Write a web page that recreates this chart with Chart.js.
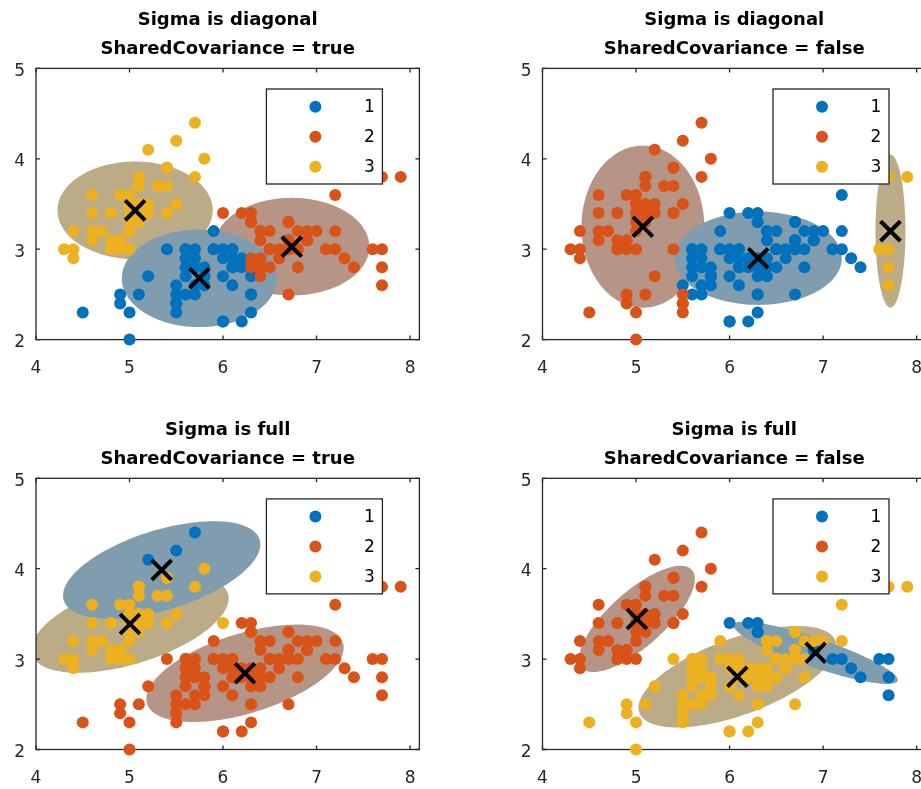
<!DOCTYPE html>
<html>
<head>
<meta charset="utf-8">
<script src="https://cdn.jsdelivr.net/npm/chart.js@4.4.1/dist/chart.umd.min.js"></script>
<style>
  html, body { margin: 0; padding: 0; background: #fff; overflow: hidden; }
  #fig { position: relative; width: 921px; height: 789px; overflow: hidden; }
  #fig canvas { position: absolute; }
</style>
</head>
<body>
<div id="fig">
  <canvas id="c1" width="460" height="400" style="left:0;top:0;width:460px;height:400px"></canvas>
  <canvas id="c2" width="500" height="400" style="left:460px;top:0;width:500px;height:400px"></canvas>
  <canvas id="c3" width="460" height="389" style="left:0;top:400px;width:460px;height:389px"></canvas>
  <canvas id="c4" width="500" height="389" style="left:460px;top:400px;width:500px;height:389px"></canvas>
</div>
<script>
// Fisher iris: sepal length / sepal width (setosa, versicolor, virginica)
const sepalLength = [
  5.1,4.9,4.7,4.6,5.0,5.4,4.6,5.0,4.4,4.9, 5.4,4.8,4.8,4.3,5.8,5.7,5.4,5.1,5.7,5.1,
  5.4,5.1,4.6,5.1,4.8,5.0,5.0,5.2,5.2,4.7, 4.8,5.4,5.2,5.5,4.9,5.0,5.5,4.9,4.4,5.1,
  5.0,4.5,4.4,5.0,5.1,4.8,5.1,4.6,5.3,5.0,
  7.0,6.4,6.9,5.5,6.5,5.7,6.3,4.9,6.6,5.2, 5.0,5.9,6.0,6.1,5.6,6.7,5.6,5.8,6.2,5.6,
  5.9,6.1,6.3,6.1,6.4,6.6,6.8,6.7,6.0,5.7, 5.5,5.5,5.8,6.0,5.4,6.0,6.7,6.3,5.6,5.5,
  5.5,6.1,5.8,5.0,5.6,5.7,5.7,6.2,5.1,5.7,
  6.3,5.8,7.1,6.3,6.5,7.6,4.9,7.3,6.7,7.2, 6.5,6.4,6.8,5.7,5.8,6.4,6.5,7.7,7.7,6.0,
  6.9,5.6,7.7,6.3,6.7,7.2,6.2,6.1,6.4,7.2, 7.4,7.9,6.4,6.3,6.1,7.7,6.3,6.4,6.0,6.9,
  6.7,6.9,5.8,6.8,6.7,6.7,6.3,6.5,6.2,5.9
];
const sepalWidth = [
  3.5,3.0,3.2,3.1,3.6,3.9,3.4,3.4,2.9,3.1, 3.7,3.4,3.0,3.0,4.0,4.4,3.9,3.5,3.8,3.8,
  3.4,3.7,3.6,3.3,3.4,3.0,3.4,3.5,3.4,3.2, 3.1,3.4,4.1,4.2,3.1,3.2,3.5,3.6,3.0,3.4,
  3.5,2.3,3.2,3.5,3.8,3.0,3.8,3.2,3.7,3.3,
  3.2,3.2,3.1,2.3,2.8,2.8,3.3,2.4,2.9,2.7, 2.0,3.0,2.2,2.9,2.9,3.1,3.0,2.7,2.2,2.5,
  3.2,2.8,2.5,2.8,2.9,3.0,2.8,3.0,2.9,2.6, 2.4,2.4,2.7,2.7,3.0,3.4,3.1,2.3,3.0,2.5,
  2.6,3.0,2.6,2.3,2.7,3.0,2.9,2.9,2.5,2.8,
  3.3,2.7,3.0,2.9,3.0,3.0,2.5,2.9,2.5,3.6, 3.2,2.7,3.0,2.5,2.8,3.2,3.0,3.8,2.6,2.2,
  3.2,2.8,2.8,2.7,3.3,3.2,2.8,3.0,2.8,3.0, 2.8,3.8,2.8,2.8,2.6,3.0,3.4,3.1,3.0,3.1,
  3.1,3.1,2.7,3.2,3.3,3.0,2.5,3.0,3.4,3.0
];

// cluster index of every flower, one list per fit
const clusterDiagShared = [
  3,3,3,3,3,3,3,3,3,3, 3,3,3,3,3,3,3,3,3,3, 3,3,3,3,3,3,3,3,3,3, 3,3,3,3,3,3,3,3,3,3, 3,1,3,3,3,3,3,3,3,3,
  2,2,2,1,2,1,2,1,2,1, 1,1,1,1,1,2,1,1,1,1, 1,1,1,1,2,2,2,2,1,1, 1,1,1,1,1,2,2,1,1,1, 1,1,1,1,1,1,1,1,1,1,
  2,1,2,2,2,2,1,2,2,2, 2,2,2,1,1,2,2,2,2,1, 2,1,2,1,2,2,1,1,2,2, 2,2,2,2,1,2,2,2,1,2, 2,2,1,2,2,2,1,2,2,1
];
const clusterDiagUnshared = [
  2,2,2,2,2,2,2,2,2,2, 2,2,2,2,2,2,2,2,2,2, 2,2,2,2,2,2,2,2,2,2, 2,2,2,2,2,2,2,2,2,2, 2,2,2,2,2,2,2,2,2,2,
  1,1,1,2,1,1,1,2,1,2, 2,1,1,1,1,1,1,1,1,1, 1,1,1,1,1,1,1,1,1,1, 2,2,1,1,2,1,1,1,1,2, 1,1,1,2,1,1,1,1,2,1,
  1,1,1,1,1,3,2,1,1,1, 1,1,1,1,1,1,1,3,3,1, 1,1,3,1,1,1,1,1,1,1, 1,3,1,1,1,3,1,1,1,1, 1,1,1,1,1,1,1,1,1,1
];
const clusterFullShared = [
  3,3,3,3,3,3,3,3,3,3, 3,3,3,3,3,1,3,3,3,3, 3,3,3,3,3,3,3,3,3,3, 3,3,1,1,3,3,3,3,3,3, 3,2,3,3,3,3,3,3,3,3,
  2,2,2,2,2,2,2,2,2,2, 2,2,2,2,2,2,2,2,2,2, 2,2,2,2,2,2,2,2,2,2, 2,2,2,2,2,3,2,2,2,2, 2,2,2,2,2,2,2,2,2,2,
  2,2,2,2,2,2,2,2,2,2, 2,2,2,2,2,2,2,2,2,2, 2,2,2,2,2,2,2,2,2,2, 2,2,2,2,2,2,2,2,2,2, 2,2,2,2,2,2,2,2,2,2
];
const clusterFullUnshared = [
  2,2,2,2,2,2,2,2,2,2, 2,2,2,2,2,2,2,2,2,2, 2,2,2,2,2,2,2,2,2,2, 2,2,2,2,2,2,2,2,2,2, 2,3,2,2,2,2,2,2,2,2,
  3,3,1,3,3,3,1,3,3,3, 3,3,3,3,3,3,3,3,3,3, 3,3,3,3,3,3,3,3,3,3, 3,3,3,3,3,1,3,3,3,3, 3,3,3,3,3,3,3,3,3,3,
  1,3,1,3,3,1,3,1,3,3, 3,3,3,3,3,3,3,3,1,3, 3,3,1,3,3,3,3,3,3,1, 1,3,3,3,3,1,1,3,3,1, 3,1,3,3,3,3,3,3,1,3
];

// fitted component means [x, y]
const meansDiagShared   = [[5.747, 2.678], [6.735, 3.028], [5.06, 3.43]];
const meansDiagUnshared = [[6.306, 2.90], [5.073, 3.249], [7.72, 3.20]];
const meansFullShared   = [[5.344, 3.986], [6.235, 2.843], [5.005, 3.388]];
const meansFullUnshared = [[6.92, 3.07], [5.009, 3.444], [6.083, 2.805]];

// 99% contour of each component: [semi-major, semi-minor, angle in degrees]
const contourDiagShared   = [[0.83, 0.54, 0], [0.83, 0.54, 0], [0.83, 0.54, 0]];
const contourDiagUnshared = [[0.894, 0.516, 0], [0.656, 0.897, 0], [0.16, 0.846, 0]];
const contourFullShared   = [[1.10, 0.44, 18], [1.10, 0.44, 18], [1.10, 0.44, 18]];
const contourFullUnshared = [[0.93, 0.16, -19.5], [0.80, 0.30, 43], [1.12, 0.42, 21]];

const xTicks = [4, 5, 6, 7, 8];
const yTicks = [2, 3, 4, 5];
const legendLabels = ['1', '2', '3'];

const CLUSTER_COLORS = ['#0072BD', '#D95319', '#EDB120'];
// same colours lightened the way the MATLAB example does: 0.25*c + 0.5
const REGION_COLORS = ['rgb(128,156,175)', 'rgb(182,148,134)', 'rgb(187,172,135)'];
const AXIS_COLOR = '#262626';
const FONT = "'DejaVu Sans', sans-serif";

function clusterPoints(labels, k) {
    const pts = [];
    labels.forEach((c, i) => {
        if (c === k) pts.push({ x: sepalLength[i], y: sepalWidth[i] });
    });
    return pts;
}

// ellipses, box with inward ticks and a boxed legend, MATLAB style
function matlabAxes(panel) {
    return {
        id: 'matlabAxes',
        beforeDatasetsDraw(chart) {
            const { ctx, chartArea: a, scales: { x, y } } = chart;
            ctx.save();
            ctx.beginPath();
            ctx.rect(a.left, a.top, a.right - a.left, a.bottom - a.top);
            ctx.clip();
            for (let k = panel.means.length - 1; k >= 0; k--) {
                const [mx, my] = panel.means[k];
                const [ra, rb, deg] = panel.contours[k];
                const th = deg * Math.PI / 180;
                ctx.beginPath();
                for (let i = 0; i <= 180; i++) {
                    const t = i / 180 * 2 * Math.PI;
                    const dx = ra * Math.cos(t) * Math.cos(th) - rb * Math.sin(t) * Math.sin(th);
                    const dy = ra * Math.cos(t) * Math.sin(th) + rb * Math.sin(t) * Math.cos(th);
                    const px = x.getPixelForValue(mx + dx);
                    const py = y.getPixelForValue(my + dy);
                    if (i === 0) ctx.moveTo(px, py); else ctx.lineTo(px, py);
                }
                ctx.closePath();
                ctx.fillStyle = REGION_COLORS[k];
                ctx.fill();
            }
            ctx.restore();

            ctx.save();
            ctx.strokeStyle = AXIS_COLOR;
            ctx.lineWidth = 1.3;
            ctx.strokeRect(a.left, a.top, a.right - a.left, a.bottom - a.top);
            ctx.beginPath();
            x.ticks.forEach(t => {
                const p = x.getPixelForValue(t.value);
                ctx.moveTo(p, a.bottom); ctx.lineTo(p, a.bottom - 4);
                ctx.moveTo(p, a.top); ctx.lineTo(p, a.top + 4);
            });
            y.ticks.forEach(t => {
                const p = y.getPixelForValue(t.value);
                ctx.moveTo(a.left, p); ctx.lineTo(a.left + 4, p);
                ctx.moveTo(a.right, p); ctx.lineTo(a.right - 4, p);
            });
            ctx.stroke();
            ctx.restore();
        },
        afterDatasetsDraw(chart) {
            const { ctx, chartArea: a } = chart;
            const w = 116, h = 95;
            const left = a.right - 37 - w, top = a.top + 20.6;
            ctx.save();
            ctx.fillStyle = '#fff';
            ctx.fillRect(left, top, w, h);
            ctx.strokeStyle = AXIS_COLOR;
            ctx.lineWidth = 1.3;
            ctx.strokeRect(left, top, w, h);
            ctx.font = '17px ' + FONT;
            ctx.textAlign = 'center';
            ctx.textBaseline = 'middle';
            legendLabels.forEach((lab, i) => {
                const yy = top + 17.7 + 30 * i;
                ctx.beginPath();
                ctx.arc(left + 49, yy, 6, 0, 2 * Math.PI);
                ctx.fillStyle = CLUSTER_COLORS[i];
                ctx.fill();
                ctx.fillStyle = '#000';
                ctx.fillText(lab, left + 103, yy + 1);
            });
            ctx.restore();
        }
    };
}

const panels = [
    { id: 'c1', title: ['Sigma is diagonal', 'SharedCovariance = true'], labels: clusterDiagShared,
      means: meansDiagShared, contours: contourDiagShared,
      yWidth: 36, padRight: 40.6, titlePad: { top: 6.2, bottom: 4.2 }, xHeight: 60.4 },
    { id: 'c2', title: ['Sigma is diagonal', 'SharedCovariance = false'], labels: clusterDiagUnshared,
      means: meansDiagUnshared, contours: contourDiagUnshared,
      yWidth: 82.5, padRight: 34, titlePad: { top: 6.2, bottom: 4.2 }, xHeight: 60.4 },
    { id: 'c3', title: ['Sigma is full', 'SharedCovariance = true'], labels: clusterFullShared,
      means: meansFullShared, contours: contourFullShared,
      yWidth: 36, padRight: 40.6, titlePad: { top: 15.5, bottom: 4.8 }, xHeight: 39.5 },
    { id: 'c4', title: ['Sigma is full', 'SharedCovariance = false'], labels: clusterFullUnshared,
      means: meansFullUnshared, contours: contourFullUnshared,
      yWidth: 82.5, padRight: 34, titlePad: { top: 15.5, bottom: 4.8 }, xHeight: 39.5 }
];

panels.forEach(panel => {
    const datasets = [1, 2, 3].map(k => ({
        label: legendLabels[k - 1],
        data: clusterPoints(panel.labels, k),
        backgroundColor: CLUSTER_COLORS[k - 1],
        borderWidth: 0,
        pointRadius: 6,
        order: 4 - k,
        clip: false
    }));
    datasets.push({
        label: 'means',
        data: panel.means.map(([x, y]) => ({ x, y })),
        pointStyle: 'crossRot',
        pointRadius: 14,
        borderColor: '#000',
        borderWidth: 4,
        order: 0,
        clip: false
    });

    const tickOpts = { color: AXIS_COLOR, font: { family: FONT, size: 17 } };

    new Chart(document.getElementById(panel.id), {
        type: 'scatter',
        data: { datasets },
        options: {
            responsive: false,
            animation: false,
            events: [],
            layout: { padding: { left: 0, top: 0, bottom: 0, right: panel.padRight } },
            plugins: {
                legend: { display: false },
                tooltip: { enabled: false },
                title: {
                    display: true,
                    text: panel.title,
                    fullSize: false,
                    color: '#000',
                    font: { family: FONT, size: 18, weight: 'bold', lineHeight: 29 / 18 },
                    padding: panel.titlePad
                }
            },
            scales: {
                x: {
                    type: 'linear',
                    min: 4, max: 8.1,
                    afterBuildTicks: s => { s.ticks = xTicks.map(v => ({ value: v })); },
                    afterFit: s => { s.height = panel.xHeight; },
                    ticks: { ...tickOpts, padding: 19 },
                    grid: { display: false, drawTicks: false },
                    border: { display: false }
                },
                y: {
                    type: 'linear',
                    min: 2, max: 5,
                    afterBuildTicks: s => { s.ticks = yTicks.map(v => ({ value: v })); },
                    afterFit: s => { s.width = panel.yWidth; },
                    ticks: { ...tickOpts, padding: 11, labelOffset: 3 },
                    grid: { display: false, drawTicks: false },
                    border: { display: false }
                }
            }
        },
        plugins: [matlabAxes(panel)]
    });
});
</script>
</body>
</html>
